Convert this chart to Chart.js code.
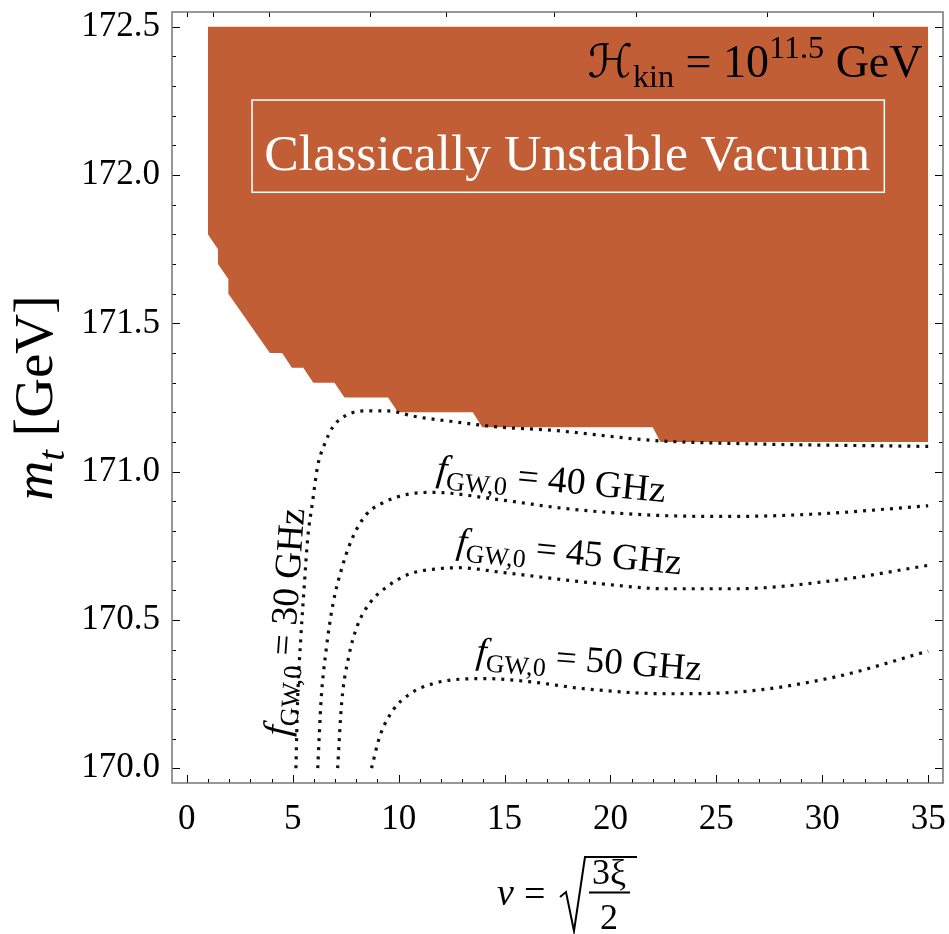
<!DOCTYPE html>
<html>
<head>
<meta charset="utf-8">
<script src="https://cdn.jsdelivr.net/npm/chart.js@4.4.1/dist/chart.umd.min.js"></script>
<style>
  html, body { margin: 0; padding: 0; background: #fff; }
</style>
</head>
<body>
<canvas id="c" width="949" height="934"></canvas>
<script>
// x: nu = sqrt(3 xi / 2), y: top mass m_t [GeV]
const nuTicks = [0, 5, 10, 15, 20, 25, 30, 35];
const mtTicks = [170.0, 170.5, 171.0, 171.5, 172.0, 172.5];
const xiTopTicks = [0, 1, 10, 50, 100, 200, 300, 500, 700];

// lower edge of the classically unstable region (filled up to 172.5)
const unstableNu = [1.0, 1.47, 1.47, 1.96, 1.96, 3.92, 4.5, 4.96, 5.5, 5.97, 6.97, 7.44, 9.5, 9.97, 13.5, 13.95, 22.0, 22.36, 35.0];
const unstableMt = [171.8, 171.75, 171.7, 171.65, 171.6, 171.4, 171.4, 171.35, 171.35, 171.3, 171.3, 171.25, 171.25, 171.2, 171.2, 171.15, 171.15, 171.1, 171.1];

// f_GW,0 contours
const nu30 = [5.15, 5.23, 5.39, 5.55, 5.70, 5.94, 6.18, 6.49, 6.89, 7.52, 8.47, 9.42, 10.84, 12.42, 14.78, 17.15, 22.05, 25.84, 35.0];
const mt30 = [170.0, 170.23, 170.45, 170.62, 170.77, 170.90, 171.02, 171.09, 171.15, 171.19, 171.205, 171.205, 171.185, 171.17, 171.15, 171.14, 171.105, 171.095, 171.085];

const nu40 = [6.18, 6.34, 6.58, 6.89, 7.36, 7.84, 8.47, 9.26, 10.52, 11.62, 14.78, 17.94, 22.05, 25.84, 29.94, 35.0];
const mt40 = [170.0, 170.23, 170.40, 170.55, 170.685, 170.78, 170.855, 170.895, 170.925, 170.93, 170.905, 170.875, 170.853, 170.849, 170.858, 170.885];

const nu45 = [7.12, 7.31, 7.64, 8.05, 8.63, 9.42, 10.52, 11.94, 12.89, 14.78, 19.52, 22.68, 25.84, 30.57, 35.0];
const mt45 = [170.0, 170.22, 170.375, 170.48, 170.556, 170.61, 170.655, 170.673, 170.676, 170.661, 170.622, 170.605, 170.605, 170.633, 170.684];

const nu50 = [8.72, 9.10, 9.73, 10.52, 11.62, 12.89, 14.15, 16.36, 18.73, 22.68, 25.84, 30.57, 35.0];
const mt50 = [170.0, 170.105, 170.195, 170.25, 170.285, 170.30, 170.302, 170.29, 170.268, 170.251, 170.256, 170.307, 170.395];

const SERIF = '"Liberation Serif", "DejaVu Serif", "DejaVu Sans", serif';
const ORANGE = '#c25e36';

const pts = (xs, ys) => xs.map((v, i) => ({ x: v, y: ys[i] }));

function contour(xs, ys) {
  return {
    data: pts(xs, ys),
    borderColor: '#111',
    borderWidth: 3.2,
    borderDash: [3, 6],
    borderCapStyle: 'butt',
    cubicInterpolationMode: 'monotone',
    fill: false,
    pointRadius: 0,
    order: 1
  };
}

// text made of runs: '' normal, 'i' italic, 'sub', 'isub', 'sup'
function drawRich(ctx, parts, x, y, opts) {
  const { angle = 0, width = null, size = 30, align = 'left', color = '#000' } = opts;
  const font = (k, s) => {
    const small = k.includes('sub') || k.includes('sup');
    return `${k.startsWith('i') ? 'italic ' : ''}${small ? s * 0.7 : s}px ${SERIF}`;
  };
  const measure = s => parts.reduce((w, [t, k]) => {
    ctx.font = font(k, s);
    return w + ctx.measureText(t).width;
  }, 0);
  let s = size;
  if (width) s = size * width / measure(size);
  const total = measure(s);
  ctx.save();
  ctx.translate(x, y);
  ctx.rotate(angle * Math.PI / 180);
  ctx.fillStyle = color;
  ctx.textBaseline = 'alphabetic';
  ctx.textAlign = 'left';
  let cx = align === 'center' ? -total / 2 : align === 'right' ? -total : 0;
  parts.forEach(([t, k]) => {
    ctx.font = font(k, s);
    const dy = k.includes('sub') ? 0.22 * s : k.includes('sup') ? -0.42 * s : 0;
    ctx.fillText(t, cx, dy);
    cx += ctx.measureText(t).width;
  });
  ctx.restore();
}

const frameTicks = {
  id: 'frameTicks',
  afterDatasetsDraw(chart) {
    const { ctx, chartArea: a, scales: { x, y } } = chart;
    const seg = (x1, y1, x2, y2) => { ctx.beginPath(); ctx.moveTo(x1, y1); ctx.lineTo(x2, y2); ctx.stroke(); };
    ctx.save();
    ctx.strokeStyle = '#000';
    ctx.lineWidth = 1;
    // bottom: major every 5, minor every 1
    for (let v = 0; v <= 35; v++) {
      const px = Math.round(x.getPixelForValue(v)) + 0.5;
      seg(px, a.bottom, px, a.bottom - (v % 5 === 0 ? 8 : 4));
    }
    // top: ticks at xi values
    xiTopTicks.forEach(xi => {
      const px = Math.round(x.getPixelForValue(Math.sqrt(1.5 * xi))) + 0.5;
      seg(px, a.top, px, a.top + 5);
    });
    // left and right: major every 0.5, minor every 0.1
    for (let k = 0; k <= 25; k++) {
      const py = Math.round(y.getPixelForValue(170 + k * 0.1)) + 0.5;
      const len = k % 5 === 0 ? 8 : 4;
      seg(a.left, py, a.left + len, py);
      seg(a.right, py, a.right - len, py);
    }
    ctx.strokeStyle = '#777';
    ctx.lineWidth = 1.5;
    ctx.strokeRect(a.left, a.top, a.right - a.left, a.bottom - a.top);
    ctx.restore();
  }
};

const annotations = {
  id: 'annotations',
  afterDraw(chart) {
    const { ctx, scales: { x, y } } = chart;
    const P = (xv, yv) => [x.getPixelForValue(xv), y.getPixelForValue(yv)];

    // header label
    const [hx, hy] = P(34.73, 172.33);
    drawRich(ctx, [['ℋ', 'i'], ['kin', 'sub'], [' = 10', ''], ['11.5', 'sup'], [' GeV', '']],
      hx, hy, { width: 335, align: 'right' });

    // boxed region label
    const [bx1, by1] = P(3.08, 172.253);
    const [bx2, by2] = P(32.93, 171.942);
    ctx.save();
    ctx.strokeStyle = '#fff';
    ctx.lineWidth = 1.5;
    ctx.strokeRect(bx1, by1, bx2 - bx1, by2 - by1);
    ctx.restore();
    const [vx, vy] = P(17.96, 172.016);
    drawRich(ctx, [['Classically Unstable Vacuum', '']], vx, vy, { width: 606, align: 'center', color: '#fff' });

    // contour labels
    const lab = f => [['f', 'i'], ['GW,0', 'sub'], [` = ${f} GHz`, '']];
    let [lx, ly] = P(5.17, 170.49);
    drawRich(ctx, lab(30), lx, ly, { width: 228, align: 'center', angle: -86 });
    [lx, ly] = P(17.15, 170.934);
    drawRich(ctx, lab(40), lx, ly, { width: 230, align: 'center', angle: 5.5 });
    [lx, ly] = P(18.0, 170.69);
    drawRich(ctx, lab(45), lx, ly, { width: 226, align: 'center', angle: 5.5 });
    [lx, ly] = P(18.95, 170.326);
    drawRich(ctx, lab(50), lx, ly, { width: 226, align: 'center', angle: 4.5 });

    // y title
    drawRich(ctx, [['m', 'i'], ['t', 'isub'], [' [GeV]', '']], 52, 398, { width: 205, align: 'center', angle: -90 });

    // x title: nu = sqrt(3 xi / 2)
    ctx.save();
    ctx.fillStyle = '#000';
    ctx.strokeStyle = '#000';
    ctx.textBaseline = 'alphabetic';
    ctx.font = `italic 38px ${SERIF}`;
    ctx.fillText('ν', 497, 905);
    ctx.font = `38px ${SERIF}`;
    ctx.fillText('=', 524, 906);
    ctx.lineWidth = 2;
    ctx.lineJoin = 'miter';
    ctx.beginPath();
    ctx.moveTo(560, 897);
    ctx.lineTo(566, 892);
    ctx.lineTo(574, 931);
    ctx.lineTo(585, 857);
    ctx.lineTo(637, 857);
    ctx.stroke();
    ctx.textAlign = 'center';
    ctx.font = `36px ${SERIF}`;
    ctx.fillText('3ξ', 609, 884);
    ctx.fillText('2', 609, 929);
    ctx.lineWidth = 1.8;
    ctx.beginPath();
    ctx.moveTo(589, 892.5);
    ctx.lineTo(630, 892.5);
    ctx.stroke();
    ctx.restore();
  }
};

const tickFont = { family: SERIF, size: 35 };

new Chart(document.getElementById('c'), {
  type: 'line',
  data: {
    datasets: [
      {
        data: pts(unstableNu, unstableMt),
        borderColor: 'rgba(0,0,0,0)',
        borderWidth: 0,
        backgroundColor: ORANGE,
        fill: { value: 172.5 },
        tension: 0,
        pointRadius: 0,
        order: 10
      },
      contour(nu30, mt30),
      contour(nu40, mt40),
      contour(nu45, mt45),
      contour(nu50, mt50)
    ]
  },
  options: {
    responsive: false,
    animation: false,
    layout: { padding: { top: 12, right: 6, left: 0, bottom: 0 } },
    plugins: { legend: { display: false }, tooltip: { enabled: false } },
    scales: {
      x: {
        type: 'linear',
        min: -0.7,
        max: 35.7,
        grid: { display: false, drawTicks: false },
        border: { display: false },
        afterBuildTicks: s => { s.ticks = nuTicks.map(v => ({ value: v })); },
        afterFit: s => { s.height = 151; s.paddingLeft = 0; s.paddingRight = 0; },
        ticks: { font: tickFont, color: '#000', padding: 16, maxRotation: 0, autoSkip: false }
      },
      y: {
        type: 'linear',
        min: 169.95,
        max: 172.55,
        grid: { display: false, drawTicks: false },
        border: { display: false },
        afterBuildTicks: s => { s.ticks = mtTicks.map(v => ({ value: v })); },
        afterFit: s => { s.width = 172; s.paddingTop = 0; s.paddingBottom = 0; },
        ticks: { font: tickFont, color: '#000', padding: 12, autoSkip: false, callback: v => v.toFixed(1) }
      }
    }
  },
  plugins: [frameTicks, annotations]
});
</script>
</body>
</html>
